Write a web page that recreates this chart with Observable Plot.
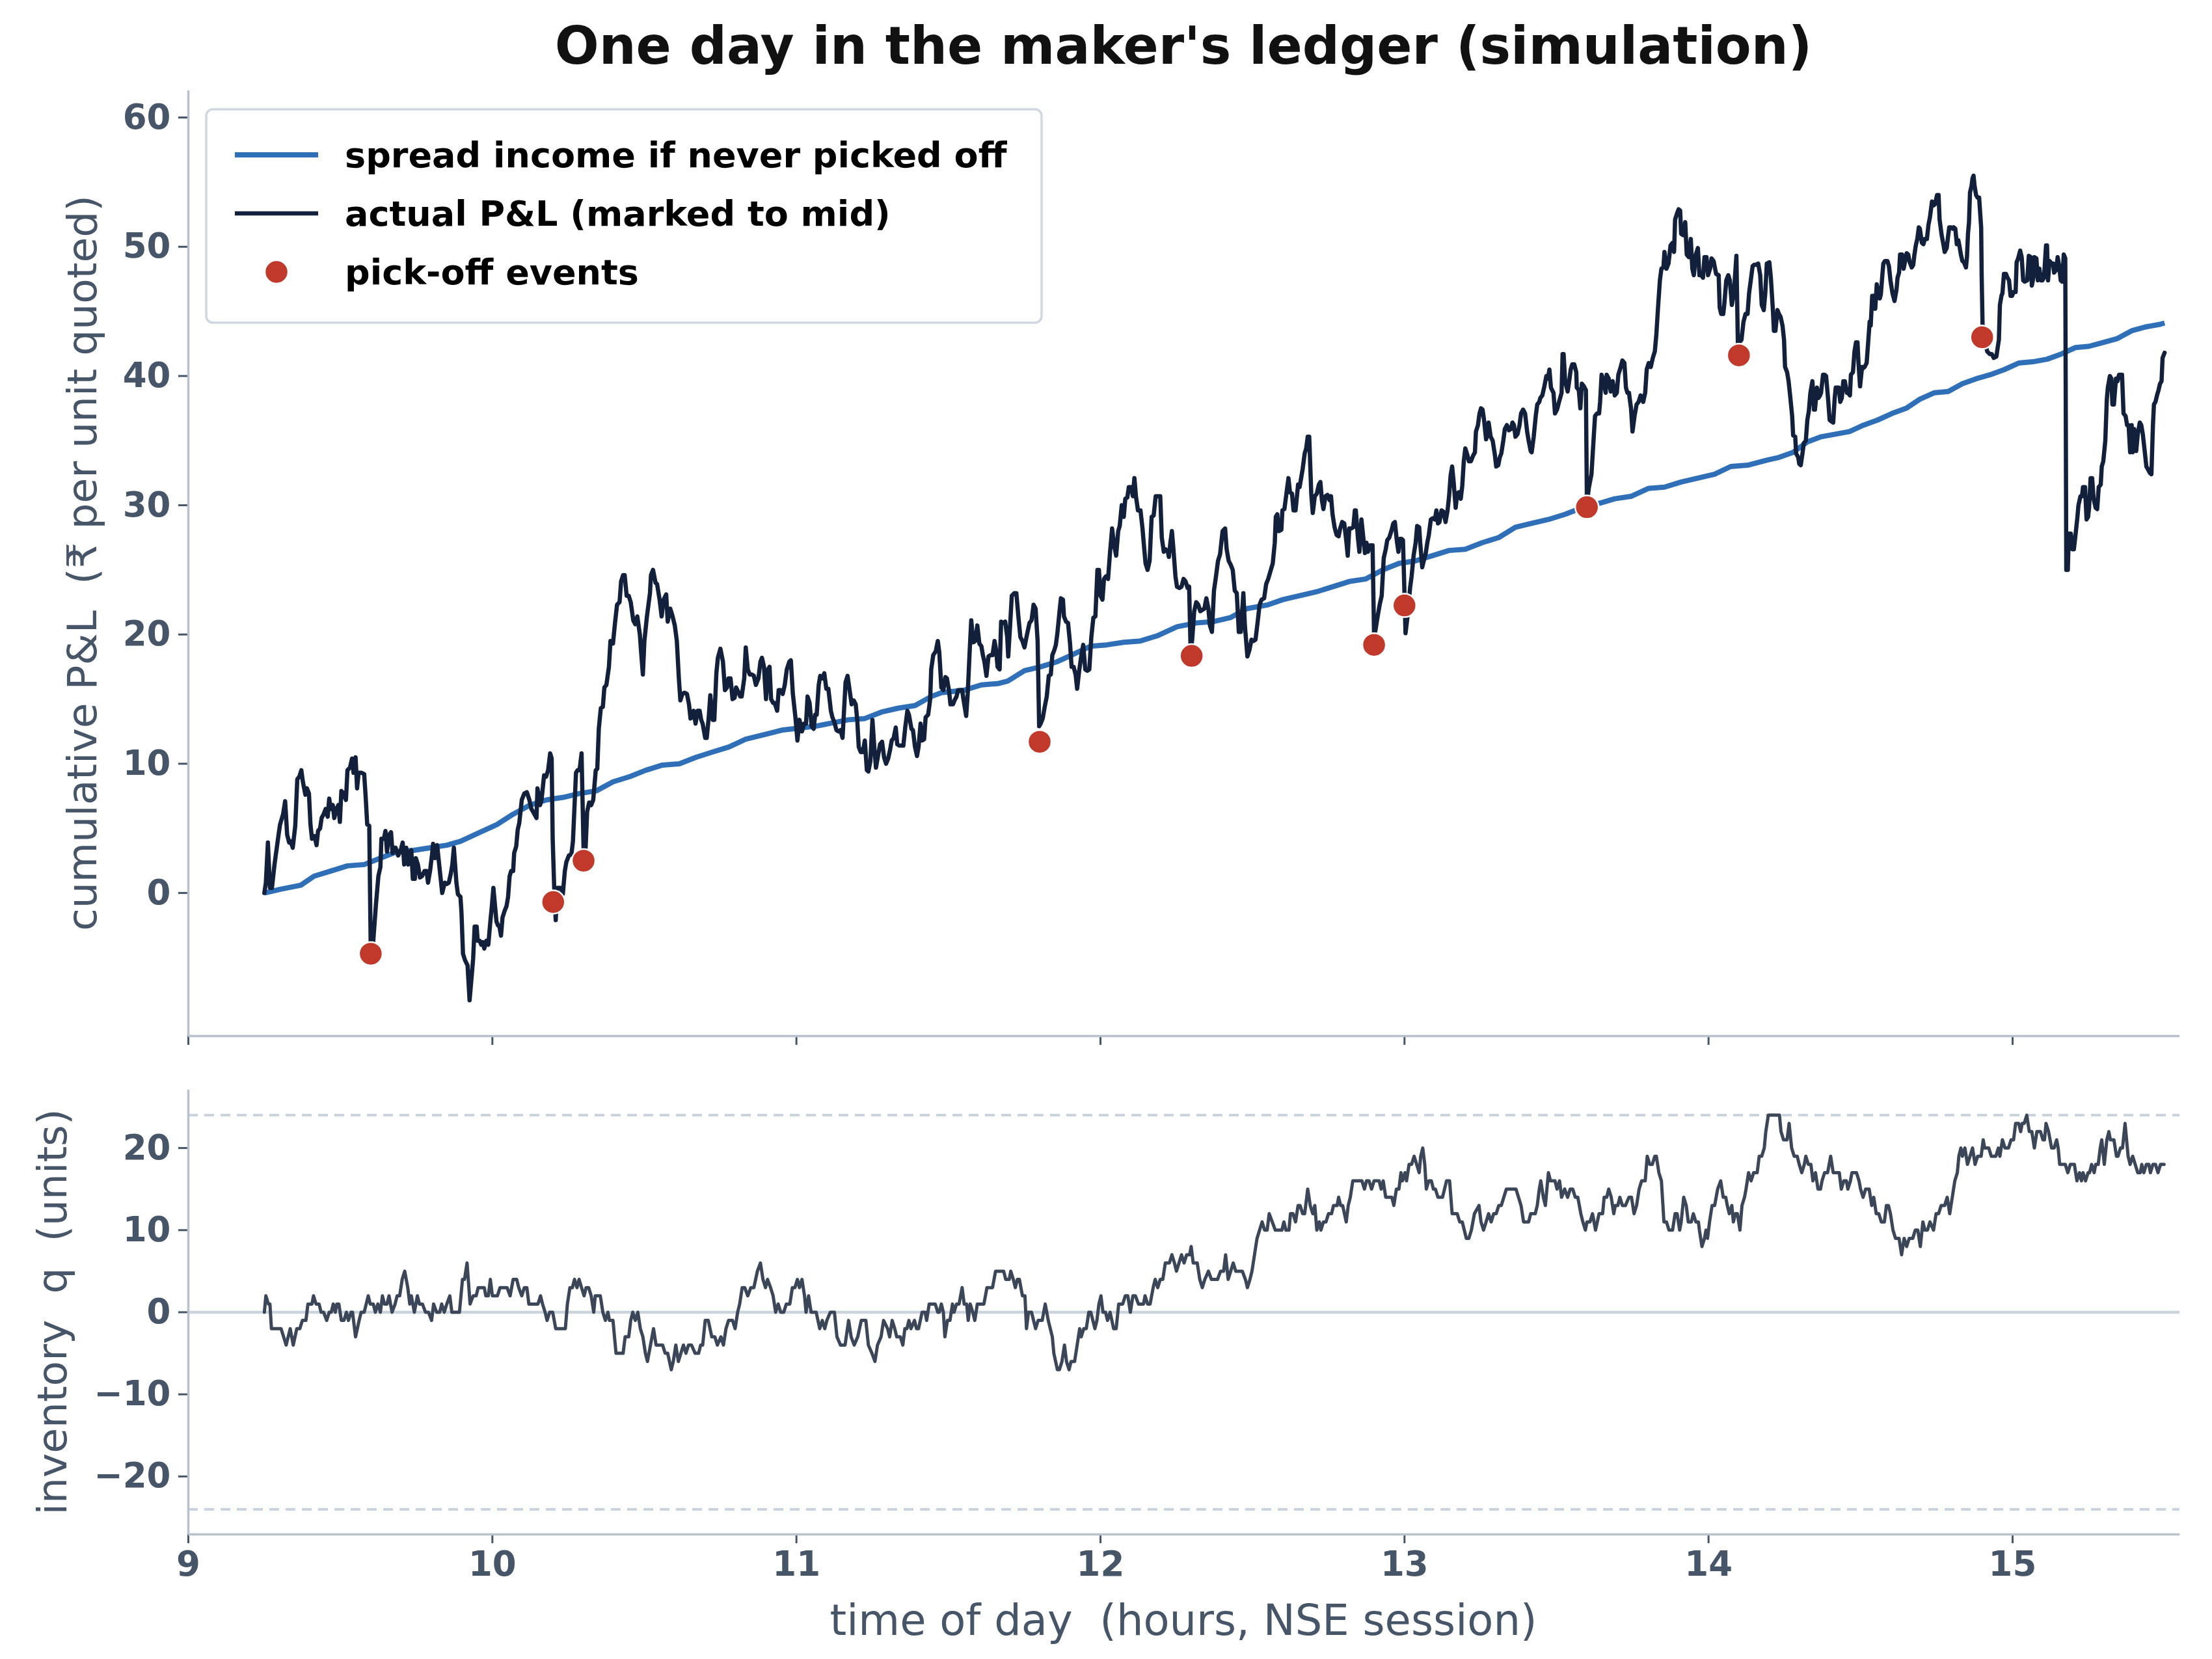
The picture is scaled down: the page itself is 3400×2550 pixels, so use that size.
<!DOCTYPE html>
<html><head><meta charset="utf-8">
<script src="https://cdn.jsdelivr.net/npm/d3@7"></script>
<script src="https://cdn.jsdelivr.net/npm/@observablehq/plot@0.6"></script>
<style>
html,body{margin:0;padding:0;background:#fff;}
#root{position:relative;width:3400px;height:2550px;overflow:hidden;background:#fff;font-family:"DejaVu Sans",sans-serif;}
#toppanel,#botpanel,#overlay{position:absolute;left:0;}
#toppanel{top:120px;} #botpanel{top:1640px;} #overlay{top:0;pointer-events:none;}
</style></head>
<body><div id="root"><div id="toppanel"></div><div id="botpanel"></div><div id="overlay"></div></div>
<script>
// ---- texts ----
const titleText = "One day in the maker's ledger (simulation)";
const legendLabels = ["spread income if never picked off", "actual P&L (marked to mid)", "pick-off events"];
const yLabelTop = "cumulative P&L  (\u20B9 per unit quoted)";
const yLabelBottom = "inventory  q  (units)";
const xLabel = "time of day  (hours, NSE session)";

// ---- ticks ----
const xTicks = [9, 10, 11, 12, 13, 14, 15];
const topYTicks = [0, 10, 20, 30, 40, 50, 60];
const bottomYTicks = [-20, -10, 0, 10, 20];
const inventoryLimit = 24;

// ---- pick-off events (hour of day, cumulative P&L) ----
const pickoffHours = [9.6, 10.2, 10.3, 11.8, 12.3, 12.9, 13.0, 13.6, 14.1, 14.9];
const pickoffValues = [-4.7, -0.7, 2.5, 11.7, 18.35, 19.2, 22.25, 29.85, 41.6, 43.0];

// ---- spread income if never picked off: [minutes after 09:00, value] ----
const spreadPoints = [[15,0],[18.3,0.3],[22.2,0.6],[24.8,1.3],[28.1,1.7],[31.4,2.1],[34.7,2.2],[37.9,2.7],[41.2,3.2],[44.5,3.3],[47.8,3.5],[51,3.7],[53.7,4],[57.6,4.7],[60.9,5.3],[64.1,6.1],[67.4,6.8],[70.7,7.2],[74,7.4],[77.2,7.7],[80.5,7.9],[83.8,8.6],[87.1,9],[90.3,9.5],[93.6,9.9],[96.9,10],[100.2,10.5],[103.4,10.9],[106.7,11.3],[110,11.9],[114.2,12.3],[117.1,12.6],[123.7,12.9],[130.2,13.4],[133.5,13.5],[136.8,14],[140.1,14.3],[143.4,14.5],[146.6,15.2],[148.6,15.5],[153.2,15.7],[156.5,16.1],[159.7,16.2],[161.7,16.4],[165,17.2],[168.2,17.5],[171.5,17.9],[174.8,18.5],[178.1,19.1],[181.3,19.2],[184.6,19.4],[187.9,19.5],[191.2,19.9],[195.1,20.6],[199,20.9],[202.3,21],[205.6,21.3],[208.9,22],[213.1,22.3],[216,22.7],[222.6,23.3],[229.1,24.1],[232.4,24.3],[235.7,25],[238.9,25.5],[242.2,25.7],[245.5,26.1],[248.8,26.5],[252,26.6],[255.3,27.1],[258.6,27.5],[261.9,28.3],[265.1,28.6],[268.4,28.9],[271.7,29.3],[275,29.8],[278.9,30.2],[281.5,30.5],[284.8,30.7],[288.1,31.3],[291.3,31.4],[294.6,31.8],[297.9,32.1],[301.2,32.4],[304.4,33],[307.7,33.1],[311.6,33.5],[313.9,33.7],[316.7,34.1],[319.5,34.9],[322.2,35.3],[325,35.5],[327.8,35.7],[330.6,36.2],[333.4,36.6],[336.2,37.1],[339,37.5],[341.7,38.2],[344.5,38.7],[347.3,38.8],[350.1,39.4],[352.9,39.8],[355.6,40.1],[358.4,40.5],[361.2,41],[364,41.1],[366.8,41.3],[369.6,41.7],[372.4,42.2],[375.1,42.3],[377.9,42.6],[380.7,42.9],[383.5,43.5],[386.3,43.8],[389.1,44],[390,44.1]];

// ---- actual P&L (marked to mid): [minutes after 09:00, value] ----
const pnlPoints = [[15,0],[15.3,0.8],[15.7,3.9],[16.1,0.4],[16.5,0.4],[17,2.2],[17.8,4.5],[18.1,5.3],[18.7,6.1],[19.1,7.1],[19.5,4.5],[19.9,3.9],[20.2,4],[20.6,3.5],[21.1,5.2],[21.5,8.8],[21.9,9],[22.3,9.5],[22.6,8.6],[23.1,7.6],[23.4,8.1],[23.8,7.7],[24.1,5.3],[24.4,4.2],[24.9,4.4],[25.3,3.7],[25.6,4.8],[26,5],[26.3,5.8],[26.7,6.1],[27.1,6.5],[27.5,5.9],[27.8,7.3],[28.1,6.5],[28.5,6.8],[28.8,5.8],[29.2,6.5],[29.6,6.8],[29.9,5.5],[30.2,7.9],[30.6,7.7],[31.1,7.2],[31.4,9.5],[31.9,9.7],[32.3,10.4],[32.6,9.3],[33,10.5],[33.3,8.1],[33.6,9.3],[34.2,9.3],[34.7,9.2],[35,7.4],[35.3,5.3],[35.7,5.2],[36,-4.6],[36.5,-3.7],[37,-1],[37.5,1.3],[37.9,2],[38.1,4.2],[38.6,4.2],[38.9,4.8],[39.2,3.2],[39.6,4.5],[40,4.7],[40.3,3.1],[40.6,3.5],[40.9,3.5],[41.4,2.9],[41.9,3.3],[42.3,3.9],[42.6,2.2],[43,3.5],[43.4,2.2],[43.6,3.1],[44,3.3],[44.3,1.1],[44.7,1.1],[44.9,2.7],[45.3,2.2],[45.7,1.2],[46.1,1.3],[46.6,1.7],[47,1.7],[47.3,0.8],[47.7,1.7],[48.1,3],[48.3,3.8],[48.7,2.7],[49.1,3.7],[49.5,2.2],[49.8,1.1],[50.1,0],[50.6,0.8],[51,0.7],[51.4,0.8],[51.8,1.5],[52.1,2.2],[52.4,3.5],[52.9,0.8],[53.2,-0.1],[53.7,-0.3],[53.9,-1.5],[54.2,-4.7],[54.6,-5.2],[55.1,-5.6],[55.5,-8.3],[55.9,-6.5],[56.2,-5.1],[56.5,-2.6],[56.9,-2.6],[57.1,-3.7],[57.5,-3.7],[57.8,-4],[58.1,-3.8],[58.4,-4.3],[58.8,-3.7],[59.2,-4],[59.6,-2.2],[59.9,-1],[60.2,0.4],[60.5,-0.9],[60.8,-2.2],[61.1,-2.5],[61.4,-2.6],[61.7,-3.3],[62,-1.9],[62.4,-1.4],[62.8,-1],[63.1,-0.3],[63.4,1.3],[63.7,1.7],[64.1,1.7],[64.3,3.1],[64.7,3.6],[65,4.9],[65.3,5.4],[65.8,7.2],[66.3,7.7],[66.8,7.8],[67.3,7.2],[67.7,6.5],[68.3,6.1],[68.7,5.8],[68.9,8.1],[69.4,6.8],[69.7,7.2],[70.2,9.1],[70.6,9],[71,9.5],[71.4,10.8],[71.7,10.4],[71.9,4.2],[72.2,0.4],[72.5,-2.1],[72.8,0.4],[73.2,0.4],[73.5,0.4],[73.9,-0.1],[74.3,1.7],[74.6,2.4],[75.1,2.9],[75.6,3],[75.9,4],[76.5,9.3],[76.8,9.5],[77.2,9.5],[77.6,10.8],[78,3.3],[78.4,3.5],[78.7,6.3],[79.1,7],[79.5,6.8],[79.9,7.2],[80.4,9.5],[80.7,9.6],[81,12.7],[81.4,14.3],[81.8,14.4],[82.1,15.9],[82.5,16.1],[83,17.5],[83.3,19.5],[83.8,19.3],[84.2,20.9],[84.6,22.3],[85.1,22.5],[85.4,24.1],[85.8,24.6],[86.1,24.6],[86.5,23],[86.9,23],[87.3,22.5],[87.8,21.1],[88.2,20.8],[88.6,21.4],[89.1,20],[89.4,18.4],[89.7,16.9],[90,19.5],[90.5,21.4],[91.1,23.2],[91.3,24.6],[91.7,25],[92.2,24],[92.5,23.9],[93,22.7],[93.4,21.4],[93.8,22.7],[94.3,23.1],[94.6,21],[95.1,22],[95.5,21.5],[96,20.7],[96.4,19.5],[96.8,16.6],[97.1,14.9],[97.5,15.4],[97.9,15.5],[98.4,15.4],[98.8,14.6],[99.1,13.5],[99.4,13.6],[99.7,14.1],[100.1,13.1],[100.5,14.1],[100.9,14.1],[101.2,13.4],[101.5,13.1],[102,12],[102.3,12],[102.7,13.6],[103,15.3],[103.5,13.4],[103.8,13.4],[104.2,17],[104.5,18.2],[105,18.9],[105.5,17.9],[105.9,15.7],[106.3,15.9],[106.6,16.6],[107,16.6],[107.4,15],[107.8,15.1],[108.1,15.9],[108.6,15.5],[108.9,15.2],[109.2,15.2],[109.7,16.6],[110,19],[110.4,17.3],[110.8,16.9],[111.2,16.9],[111.6,16.8],[112,16.1],[112.5,16.6],[112.9,17.9],[113.2,18.2],[113.6,17.5],[114,15],[114.4,17.3],[114.7,17.5],[115,15],[115.4,14.7],[115.7,14.7],[116.2,14.1],[116.5,15.7],[116.9,15.7],[117.3,15.4],[117.7,16.1],[118.1,17.3],[118.6,17.9],[118.9,18],[119.3,15.4],[119.8,13.6],[120.2,11.8],[120.6,13.4],[121.1,12.5],[121.5,13.1],[121.9,13.1],[122.2,15.2],[122.6,14.7],[123,12.9],[123.4,12.7],[123.7,13.8],[124,13.8],[124.4,16.1],[124.7,16.8],[125.1,16.6],[125.5,17],[125.9,15.8],[126.3,15.8],[126.8,14.1],[127.1,13.6],[127.5,13.2],[127.9,12.6],[128.3,12.5],[128.7,12.6],[129.1,12],[129.3,13.4],[129.7,16.3],[130.1,16.8],[130.6,15.4],[130.9,14.6],[131.3,14.9],[131.7,14.6],[132,13.4],[132.3,11.3],[132.7,10.9],[133.1,10.9],[133.5,11.8],[133.9,9.5],[134.2,9.4],[134.6,10.2],[135,13.4],[135.4,11.1],[135.7,9.7],[136.1,10.6],[136.5,11.5],[136.9,11.7],[137.3,10.5],[137.7,10],[138.1,10.4],[138.5,11.1],[138.8,11.8],[139.2,12],[139.6,12.8],[139.9,11.5],[140.3,11.4],[140.7,11.4],[141.1,11.4],[141.5,12.9],[141.9,14.1],[142.2,13.8],[142.7,12.7],[143,12.6],[143.4,11.3],[143.8,10.6],[144.1,11.3],[144.5,13.1],[144.8,11.8],[145.2,11.9],[145.5,13.6],[146,13.8],[146.4,15],[146.6,17.3],[147,18.4],[147.5,18.7],[147.9,19.5],[148.2,18.6],[148.6,15.9],[149,15.7],[149.4,16.7],[149.7,16.6],[150.1,15.7],[150.4,14.6],[150.9,14.6],[151.2,14.9],[151.6,15.2],[151.9,15.7],[152.3,15.7],[152.7,15.7],[153,14.9],[153.5,13.7],[153.8,15.4],[154.2,18.8],[154.5,21.1],[154.9,19.4],[155.3,19.5],[155.7,20.7],[156.1,19.3],[156.5,19.1],[156.8,18.4],[157.1,17.9],[157.5,16.8],[157.9,18.3],[158.3,18.4],[158.7,18.4],[159.1,19.5],[159.4,18.8],[159.7,17.5],[160.1,17.3],[160.4,21],[160.8,20.9],[161.2,21],[161.6,19.8],[161.8,18.3],[162.2,20.9],[162.5,23],[163,23.2],[163.4,23.2],[163.8,21.4],[164.2,19.8],[164.6,19.5],[165,19],[165.5,20],[166,20.9],[166.4,21.1],[166.8,22.3],[167.2,22],[167.6,19.5],[167.9,12.9],[168.2,13.1],[168.6,13.5],[169,14.4],[169.4,15.2],[169.8,16.8],[170.2,16.9],[170.5,18.4],[170.9,18.8],[171.2,19.2],[171.5,20.1],[171.9,21.7],[172.2,22.8],[172.6,22.7],[172.8,21.4],[173.2,21],[173.6,20.9],[174,19.3],[174.3,17.5],[174.7,17.5],[175.1,16.9],[175.4,15.8],[175.8,17.2],[176.2,18.3],[176.6,19.2],[177,17.3],[177.4,17.2],[177.8,17.3],[178.2,19.8],[178.6,21.3],[179,21.4],[179.4,25],[179.7,25],[180,23],[180.4,22.7],[180.7,24.3],[181.1,24.5],[181.5,24.3],[181.9,26.4],[182.3,28.2],[182.7,26.9],[183.1,26.1],[183.5,28],[183.8,28.4],[184.2,30],[184.6,29.1],[184.9,30.5],[185.3,30.6],[185.6,31.4],[186.1,31.4],[186.4,30.7],[186.7,32.1],[187,30.7],[187.4,29.6],[187.9,29.6],[188.3,28.2],[188.6,26.8],[188.9,25.5],[189.3,25],[189.7,25.7],[190.1,29.1],[190.5,29.2],[190.9,30.7],[191.3,30.7],[191.8,30.7],[192.1,27.5],[192.5,26.4],[192.8,26.6],[193.3,26.4],[193.5,26],[193.8,27.1],[194.1,28],[194.4,26.6],[194.8,24.5],[195.1,23.7],[195.6,23.6],[196,23.7],[196.4,24.3],[196.8,24.1],[197.2,23.6],[197.5,23.7],[197.8,18.6],[198.1,19.6],[198.5,21.8],[198.9,22.5],[199.3,22.3],[199.7,21.8],[200.1,21.9],[200.5,22],[200.9,22.8],[201.3,22],[201.6,20.7],[202,20.2],[202.4,23.4],[202.8,24.5],[203.2,25.7],[203.6,26.2],[204.1,28],[204.6,28.2],[204.9,26.6],[205.3,25.7],[205.7,25.4],[206.1,25],[206.5,23.4],[206.9,23.2],[207.3,20.2],[207.7,20.2],[208.2,23.2],[208.5,20.7],[209,18.3],[209.4,18.8],[209.8,19.6],[210.2,19.5],[210.6,19.6],[211,20.9],[211.4,22.3],[211.8,22.7],[212.3,22.8],[212.7,23.9],[213.1,24.3],[214,25.5],[214.4,27.1],[214.6,29.1],[214.9,29.3],[215.2,28],[215.7,28.1],[215.9,29.6],[216.3,29.7],[216.7,30.9],[217.1,32.1],[217.4,31],[217.8,30.9],[218.1,29.6],[218.5,29.6],[219,31.6],[219.3,31.4],[219.6,32.1],[219.9,32.8],[220.3,34],[220.6,34.4],[220.9,35.3],[221.2,35.3],[221.6,30.9],[221.9,29.4],[222.3,30.7],[222.7,30.9],[223.1,31.6],[223.4,31.8],[223.7,30.4],[224,29.7],[224.4,30.7],[224.8,30.8],[225.2,30.4],[225.5,30.7],[225.8,29.3],[226.2,28.3],[226.6,27.7],[227,27.6],[227.3,28.2],[227.7,28.7],[228.1,28.6],[228.5,27.3],[228.8,26.1],[229.1,28.2],[229.5,28.2],[229.9,28.3],[230.2,29.6],[230.4,29.6],[230.8,27.5],[231.1,26.4],[231.5,28.9],[231.9,27.4],[232.2,26.3],[232.5,27.1],[232.8,26.4],[233.2,26.9],[233.7,26.9],[234,19.8],[234.3,20.4],[234.7,21.4],[235.1,22.3],[235.5,23],[235.9,25.9],[236.3,26.6],[236.6,27.3],[237,27.5],[237.4,28],[237.8,28.6],[238.1,28.7],[238.5,27.2],[238.8,26.4],[239.1,27.4],[239.4,27.4],[239.7,27.3],[240,23.1],[240.2,20.1],[240.6,21.4],[241.1,23.6],[241.4,24.5],[241.8,26.1],[242.2,27.1],[242.5,28.4],[242.9,28.3],[243.1,27.1],[243.5,25.2],[243.8,25.7],[244.2,26.3],[244.5,27.1],[244.8,27.7],[245.2,28.9],[245.6,29],[246,28.9],[246.3,29.6],[246.6,28.6],[246.9,28.7],[247.3,29.6],[247.7,29.5],[248.1,28.7],[248.5,29.6],[248.8,30.7],[249.1,32.3],[249.4,33],[249.7,31.8],[250.1,29.8],[250.4,30.9],[250.7,31],[251.1,30.5],[251.4,31.5],[251.7,33.4],[252,34.4],[252.4,33.9],[252.7,33.4],[253.1,33.4],[253.5,33.8],[253.9,34.1],[254.1,35.7],[254.5,36.2],[254.8,37.1],[255.1,37.5],[255.4,37.4],[255.7,36.6],[256.1,35.1],[256.4,35.5],[256.6,36.4],[257,35.3],[257.4,35],[257.8,34],[258.1,33],[258.5,33.1],[258.8,33.7],[259.1,34],[259.5,35],[259.8,35.9],[260.2,36.2],[260.6,35.8],[261,35.9],[261.3,36.4],[261.6,36.2],[261.9,35.3],[262.3,35.5],[262.7,36.2],[263,37.1],[263.4,37.4],[263.8,37.1],[264.2,35.7],[264.5,35],[264.9,34.2],[265.1,34.1],[265.5,35.3],[265.9,36.9],[266.2,37.8],[266.6,38],[266.8,38.3],[267.2,38.5],[267.6,39.2],[268,40],[268.3,39.8],[268.6,40.5],[268.9,39.1],[269.4,38.7],[269.7,37.1],[270.1,37.4],[270.5,38],[271,38.7],[271.2,41.7],[271.4,41.7],[271.7,39.6],[272.2,38.8],[272.5,39.6],[272.8,40.5],[273.1,40.9],[273.5,40.9],[273.9,40.3],[274,39.1],[274.4,38.9],[274.7,37.5],[275,39.4],[275.4,39.2],[275.8,38.9],[276,30.2],[276.4,31.4],[276.9,32.4],[277.3,35],[277.6,36.9],[278,37.1],[278.4,37.1],[278.6,38],[278.9,40.1],[279.3,39.6],[279.7,38.7],[279.9,40.1],[280.3,39.8],[280.7,38.8],[281.1,39.6],[281.5,38.5],[281.9,38.7],[282.2,40.1],[282.6,40.6],[283,41.2],[283.4,41],[283.7,39.1],[284,38.7],[284.3,38.7],[284.7,37.5],[285,35.7],[285.4,36.9],[285.8,37.8],[286.2,38],[286.6,38.5],[287.1,38],[287.5,38.7],[287.8,40.5],[288.2,41],[288.6,40.7],[289,41.4],[289.4,41.9],[289.7,43.2],[290,45.1],[290.4,47.4],[290.7,48.3],[291.1,48.4],[291.3,49.6],[291.7,48.3],[292.1,48.7],[292.5,50.1],[292.9,50.3],[293.2,49.6],[293.4,52.1],[293.8,52.6],[294.1,52.9],[294.4,52.8],[294.6,51],[295,50.9],[295.4,51.9],[295.7,49.4],[296.1,49.2],[296.5,50.6],[296.8,48.3],[297.1,47.8],[297.5,49.4],[297.9,49.9],[298.2,47.8],[298.6,47.8],[298.9,47.6],[299.2,49.2],[299.6,49.2],[299.9,47.8],[300.3,48.3],[300.6,49.1],[301,48.9],[301.5,47.9],[302,47.8],[302.2,45.3],[302.5,44.8],[302.9,44.8],[303.1,45.5],[303.5,47.4],[303.9,47.8],[304.2,47.4],[304.6,45.5],[305,46.4],[305.5,49.3],[305.8,42.2],[306.1,42.6],[306.5,42.8],[306.9,44.2],[307.3,44.8],[307.7,44.8],[308,46.4],[308.4,47.6],[308.7,48.5],[309,48.6],[309.4,48.6],[309.8,48.7],[310.2,47.8],[310.5,45.5],[310.9,45.1],[311.2,46.4],[311.5,48.7],[312,48.8],[312.3,47.6],[312.7,45.1],[312.9,43.5],[313.2,43.5],[313.6,45.1],[313.9,44.8],[314.2,44.6],[314.6,43.9],[314.9,42.8],[315.1,40.7],[315.5,40.3],[315.8,39.6],[316.1,38.5],[316.5,36.9],[316.7,35.4],[317.1,35.3],[317.3,34],[317.7,33.7],[317.9,33.2],[318.2,33.1],[318.5,33.9],[318.8,34.8],[319.2,35],[319.5,36.6],[319.8,37.3],[320.1,38.7],[320.5,39.6],[320.8,37.4],[321,37.4],[321.4,39.1],[321.7,38.3],[322,38.5],[322.2,38.7],[322.6,40.1],[322.9,40.1],[323.2,40],[323.6,38.2],[323.9,36.6],[324.2,36.5],[324.6,36.4],[324.9,38.3],[325.1,39.1],[325.4,39.1],[325.7,39.1],[326,38],[326.3,38.3],[326.6,39.6],[326.9,39.6],[327.3,38.7],[327.5,38.7],[327.9,38.5],[328.1,40.1],[328.5,40.3],[328.8,41.9],[329.1,42.6],[329.4,42.6],[329.6,41],[329.9,39.2],[330.3,40.7],[330.5,40.6],[330.8,40.7],[331.2,41],[331.5,42.6],[331.8,44.2],[332,43.9],[332.3,46.2],[332.6,46.2],[332.9,45.2],[333.2,47.1],[333.5,46.4],[333.8,46],[334,46.3],[334.3,47.8],[334.5,48.7],[334.8,48.9],[335.3,48.9],[335.6,48.5],[335.9,47.4],[336.3,46.4],[336.7,45.8],[337.1,46.7],[337.3,47.6],[337.6,48],[337.8,49.4],[338.2,49.4],[338.5,48.3],[338.8,48.9],[339.1,49.5],[339.4,49.4],[339.7,48.8],[340.1,48.4],[340.4,48.6],[340.6,49.3],[340.9,50.1],[341.2,50.6],[341.5,51.5],[341.7,51.4],[342.1,50.3],[342.4,50.2],[342.7,50.6],[343.1,50.6],[343.4,51.7],[343.7,52.3],[344.1,53.5],[344.4,53.2],[344.7,53.3],[345.1,54],[345.4,54],[345.6,52.1],[346,50.9],[346.3,50.3],[346.6,49.6],[347,49.9],[347.3,50.9],[347.5,51.5],[347.9,51.5],[348.2,51.4],[348.4,51.5],[348.7,51.4],[349,50.2],[349.3,50.5],[349.5,50.1],[349.8,49.4],[350.1,48.9],[350.4,48.8],[350.8,48.4],[351,49.2],[351.2,51],[351.4,51.9],[351.6,54.2],[351.9,54.7],[352.1,55.3],[352.3,55.5],[352.5,54.7],[352.8,54],[353.1,53.8],[353.4,53.8],[353.8,51.5],[353.9,47.8],[354.1,43.5],[355,41.9],[355.5,41.7],[355.9,41.7],[356.3,41.4],[356.8,41.5],[357.1,42.3],[357.3,42.8],[357.5,45.5],[357.8,46.2],[358,46.4],[358.3,47.9],[358.7,47.9],[359,47.6],[359.3,47.4],[359.6,46.2],[359.9,46.2],[360.2,46.5],[360.6,46.5],[360.8,48.8],[361.1,49.1],[361.5,49.7],[361.8,49.2],[362.1,47.4],[362.4,47.3],[362.9,47.4],[363.2,49.3],[363.6,49.2],[363.8,47],[364.1,47.6],[364.3,49.2],[364.7,49.1],[365,47.4],[365.3,48.3],[365.6,47.4],[365.9,47.4],[366.2,47.6],[366.6,50.1],[366.8,50.1],[367,47.4],[367.3,48.9],[367.7,48.7],[368,48.7],[368.2,48],[368.6,48.2],[368.9,49.2],[369.2,48.5],[369.5,47.4],[369.8,47.3],[370.1,49.4],[370.4,49.1],[370.6,25],[370.9,25],[371.1,27.8],[371.5,27.8],[371.8,26.6],[372.1,26.6],[372.5,28],[372.8,29.1],[373,30],[373.4,30.7],[373.7,30.7],[373.9,31.4],[374.3,31.4],[374.6,28.9],[374.9,29.1],[375.1,29.8],[375.4,32.1],[375.7,32.1],[376,30.5],[376.4,29.8],[376.7,29.7],[377,31.4],[377.4,31.6],[377.6,33],[377.9,33.4],[378.3,35],[378.6,38.2],[378.8,39.1],[379.2,40],[379.5,39.8],[379.7,37.8],[380,37.8],[380.4,39.8],[380.7,39.6],[381,40.1],[381.4,40.1],[381.6,40.1],[381.9,37.1],[382.3,36.9],[382.6,36.2],[382.9,36.2],[383.2,34.1],[383.5,36.2],[383.7,34.1],[384,35.9],[384.4,34.2],[384.7,35.5],[385.1,36.4],[385.4,36.2],[385.7,35.5],[386.1,34.1],[386.4,33],[386.7,32.8],[387.1,32.5],[387.4,32.4],[387.7,36.2],[387.9,37.8],[388.2,38],[388.5,38.5],[388.8,38.9],[389.1,39.4],[389.4,39.6],[389.6,41.4],[390,41.8]];

// ---- inventory q (units): [minutes after 09:00, units] ----
const inventoryPoints = [[15,0],[15.3,2],[15.8,1],[16.1,1],[16.4,-2],[18.3,-2],[18.8,-3],[19.3,-4],[20.1,-2],[20.7,-4],[21.4,-2],[22,-2],[22.5,-1],[23.2,-1],[23.6,1],[24.4,1],[24.7,2],[25.2,1],[25.8,1],[26.2,0],[26.7,0],[27.3,-1],[27.8,0],[28.2,0],[28.6,1],[29,0],[29.3,1],[29.7,1],[30.2,-1],[30.7,-1],[31.2,0],[31.6,-1],[32.1,0],[32.4,0],[33,-3],[33.7,-1],[34.1,0],[34.7,0],[35.5,2],[35.9,1],[36.5,1],[36.9,0],[37.4,1],[37.9,0],[38.3,2],[38.7,1],[39.2,1],[39.6,2],[40.2,0],[40.8,1],[41.2,2],[41.7,2],[42.2,4],[42.7,5],[43.3,3],[43.7,1],[44,2],[44.6,0],[45.2,2],[45.6,1],[46.2,1],[46.8,0],[47.4,0],[48,-1],[48.4,1],[49,0],[49.6,0],[50,1],[50.5,0],[51,1],[51.6,2],[52,0],[53.5,0],[54.1,4],[54.5,4],[55,6],[55.6,1],[56.2,2],[56.8,2],[57.2,3],[58.4,3],[58.7,2],[59.2,2],[59.6,4],[60,2],[61,2],[61.5,3],[62.9,3],[63.5,2],[64.1,4],[64.8,4],[65.2,3],[65.8,2],[66.3,3],[66.8,3],[67.2,1],[69,1],[69.5,2],[69.9,1],[70.4,0],[70.8,-1],[71.3,0],[71.9,0],[72.5,-2],[74.4,-2],[74.8,1],[75.3,3],[75.8,3],[76.2,4],[76.7,3],[77.1,4],[77.6,3],[78.1,2],[78.5,3],[79,3],[79.5,2],[80,0],[80.3,2],[81.3,2],[81.8,0],[82.3,-1],[82.8,0],[83.1,-1],[83.8,-1],[84.4,-5],[85.8,-5],[86.2,-3],[86.9,-3],[87.3,-1],[87.7,0],[88.2,-1],[88.7,0],[89.2,-2],[89.7,-3],[90.2,-5],[90.6,-6],[91.2,-4],[91.8,-2],[92.3,-4],[93.6,-4],[94.1,-5],[94.6,-5],[95.3,-7],[95.7,-6],[96.2,-4],[96.7,-6],[97.2,-5],[97.7,-4],[98.2,-5],[98.7,-4],[99.3,-4],[100,-5],[100.7,-5],[101.1,-4],[101.5,-4],[102,-1],[102.6,-1],[103.3,-3],[103.9,-3],[104.4,-4],[105.1,-3],[105.6,-4],[106.1,-2],[106.6,-1],[107.4,-1],[107.9,-2],[108.4,0],[108.8,1],[109.3,3],[109.8,3],[110.4,2],[111,3],[111.6,3],[112.3,5],[112.9,6],[113.4,4],[113.9,3],[114.3,4],[114.9,3],[115.4,2],[115.9,0],[116.4,1],[116.9,0],[117.5,0],[118,1],[118.7,1],[119.2,3],[119.7,3],[120.2,4],[120.6,3],[121.1,4],[121.6,2],[121.9,0],[122.4,2],[122.9,0],[123.9,0],[124.6,-2],[125.1,-1],[125.6,-2],[126,-1],[126.7,0],[127.5,0],[128,-3],[128.7,-4],[129.6,-4],[130.3,-1],[130.8,-3],[131.4,-4],[132.1,-3],[132.8,-1],[133.7,-1],[134.2,-4],[134.9,-5],[135.5,-6],[136,-4],[136.7,-3],[137.2,-1],[138,-2],[138.4,-3],[138.9,-1],[139.4,-2],[139.8,-3],[140.5,-3],[141,-4],[141.4,-2],[141.8,-2],[142.2,-1],[142.6,-2],[143.3,-1],[143.7,-2],[144.1,-2],[144.8,0],[145.4,0],[145.7,-1],[146.2,1],[147.4,1],[147.9,0],[148.2,0],[148.6,1],[149,0],[149.3,-3],[149.8,-1],[150.3,-1],[150.8,1],[151.1,0],[151.6,1],[152.1,1],[152.7,3],[153.1,1],[153.6,1],[153.9,-1],[154.3,1],[154.8,0],[155.2,-1],[155.7,1],[157,1],[157.6,3],[158.7,3],[159.3,5],[160.9,5],[161.3,4],[162,4],[162.3,5],[162.8,4],[163.2,3],[163.6,4],[164,4],[164.6,2],[165.1,2],[165.4,-2],[165.8,0],[166.4,0],[166.8,-1],[167.2,-2],[167.7,-1],[168.5,-1],[169.1,1],[169.7,-1],[170.5,-3],[170.8,-5],[171.5,-7],[171.9,-7],[172.4,-6],[172.9,-4],[173.3,-6],[173.8,-7],[174.2,-6],[174.9,-6],[175.4,-4],[175.9,-2],[176.2,-3],[176.7,-2],[177.2,-2],[177.7,0],[178.1,0],[178.5,-1],[178.9,-2],[179.3,-1],[179.7,1],[180.1,2],[180.5,0],[181,0],[181.4,-1],[181.9,0],[182.6,-2],[183.1,-2],[183.6,1],[184.4,1],[184.9,2],[185.4,2],[185.9,0],[186.4,2],[186.9,2],[187.5,1],[188.5,1],[188.8,2],[189.3,1],[189.8,1],[190.4,3],[190.8,4],[191.3,3],[191.8,4],[192.3,4],[192.8,6],[193.6,6],[194.1,7],[194.6,6],[195,5],[195.5,6],[196,7],[196.5,6],[197,7],[197.6,7],[197.9,8],[198.3,6],[199.1,6],[199.6,4],[200.1,3],[200.6,4],[201.3,5],[201.9,4],[203.1,4],[203.7,5],[204.3,5],[204.7,7],[205.2,4],[205.7,5],[206.2,6],[206.7,5],[208,5],[208.6,4],[209,3],[209.5,4],[209.9,5],[210.4,7],[210.9,9],[211.4,10],[211.9,11],[212.4,10],[212.9,10],[213.3,12],[213.9,11],[214.5,10],[215.8,10],[216.2,11],[216.6,10],[217.2,10],[217.5,12],[218,12],[218.5,11],[219,13],[219.4,13],[219.9,12],[220.3,12],[220.9,15],[221.4,13],[221.9,12],[222.3,13],[222.7,10],[223.2,11],[223.5,10],[224,11],[224.5,11],[225,12],[225.6,12],[226,13],[226.7,13],[227,14],[227.4,13],[227.8,13],[228.5,11],[228.9,13],[229.3,14],[229.8,16],[231.6,16],[232.1,15],[232.5,16],[233,16],[233.5,15],[234,16],[235,16],[235.4,15],[235.8,16],[236.3,14],[237.5,14],[237.9,13],[238.4,15],[238.9,15],[239.3,17],[239.6,16],[240.1,17],[240.4,16],[240.9,18],[241.4,18],[241.9,19],[242.4,18],[242.9,17],[243.2,19],[243.6,20],[244,18],[244.3,15],[244.8,16],[245.3,16],[245.7,15],[246.1,15],[246.6,14],[247.5,14],[247.9,15],[248.3,16],[248.9,16],[249.4,12],[250.4,12],[250.9,11],[251.4,11],[251.8,10],[252.2,9],[252.7,9],[253.2,10],[253.8,12],[254.7,13],[255.1,11],[255.6,10],[256.1,11],[256.6,12],[257.1,11],[257.6,12],[258.1,12],[258.6,13],[259.1,13],[259.6,14],[260.1,15],[262,15],[262.5,14],[263,13],[263.5,11],[264.5,11],[264.9,12],[265.8,12],[266.2,13],[266.6,15],[266.9,16],[267.4,14],[267.8,13],[268.1,15],[268.4,17],[268.8,16],[269.7,16],[270.1,15],[270.6,16],[271,14],[271.6,15],[272.2,14],[272.7,15],[273.2,15],[273.7,14],[274.2,14],[274.8,12],[275.2,11],[275.7,10],[276,11],[276.6,11],[277.1,12],[277.7,10],[278.4,12],[279.1,12],[279.4,14],[279.9,14],[280.3,15],[280.8,14],[281.3,12],[281.6,13],[282.1,13],[282.5,14],[283,13],[283.6,13],[284.3,14],[284.8,14],[285.3,12],[285.8,13],[286.3,15],[286.8,16],[287.5,16],[287.9,19],[288.4,18],[288.9,18],[289.4,19],[289.7,19],[290.2,17],[290.7,16],[291.2,11],[291.7,11],[292.2,10],[292.9,10],[293.4,12],[293.8,12],[294.3,10],[294.6,11],[295.1,14],[295.6,13],[296,11],[296.6,11],[297,12],[297.5,11],[298,11],[298.2,10],[298.7,8],[299.2,9],[299.5,10],[299.8,9],[300.2,11],[300.7,13],[301.2,13],[301.8,15],[302.4,16],[302.9,14],[303.4,14],[303.7,13],[304.1,12],[304.6,13],[304.9,11],[305.3,12],[305.7,12],[306.2,10],[306.6,13],[307.1,14],[307.4,15],[307.9,17],[308.4,16],[308.9,17],[309.6,17],[310,19],[310.5,19],[311,20],[311.3,22],[311.8,24],[314,24],[314.3,22],[314.8,21],[315.5,21],[315.9,23],[316.4,20],[316.9,19],[317.5,19],[317.9,18],[318.4,17],[318.9,18],[319.2,19],[319.7,18],[320.2,18],[320.6,16],[321.1,17],[321.6,15],[322.1,15],[322.4,16],[322.9,17],[323.5,17],[323.8,18],[324.1,19],[324.6,17],[325.8,17],[326.2,15],[326.7,16],[327.2,16],[327.5,15],[328,16],[328.3,17],[329.2,17],[329.7,16],[330,15],[330.5,14],[331,15],[331.7,15],[332.2,13],[332.6,14],[333.1,12],[333.6,12],[334.1,11],[334.7,11],[335.1,13],[335.5,13],[335.9,12],[336.4,10],[336.9,9],[337.6,9],[338.1,7],[338.6,9],[339.1,8],[339.6,9],[340.3,9],[340.8,10],[341.3,10],[341.8,8],[342.3,11],[342.7,10],[343.2,10],[343.7,11],[344.4,10],[344.9,12],[345.4,12],[345.9,13],[346.6,13],[347.1,14],[347.6,12],[348.1,14],[348.6,16],[349.1,17],[349.4,19],[349.8,20],[350.1,19],[350.6,20],[351.1,18],[351.6,19],[352.1,20],[352.6,18],[353.1,19],[353.8,19],[354.2,21],[354.5,20],[355.3,20],[355.8,19],[356.7,19],[357.2,20],[357.5,19],[358,21],[358.5,20],[359.2,20],[359.7,21],[360.2,21],[360.6,23],[361.2,23],[361.6,22],[361.9,23],[362.3,23],[362.8,24],[363.3,22],[363.8,22],[364.3,20],[364.8,22],[365.5,22],[366,21],[366.3,21],[366.6,23],[367.1,22],[367.7,20],[368.2,20],[368.7,21],[369,20],[369.3,18],[369.8,18],[370.4,18],[370.9,17],[371.4,18],[372.2,18],[372.7,16],[373.2,17],[373.6,16],[373.9,17],[374.4,16],[374.9,17],[375.2,17],[375.6,18],[376.1,17],[376.4,18],[376.9,18],[377.3,20],[377.6,21],[378.1,18],[378.6,21],[379,22],[379.3,21],[380,21],[380.5,19],[380.8,19],[381.3,20],[381.7,20],[382.2,23],[382.5,21],[382.8,19],[383.2,18],[383.7,19],[384.2,18],[384.7,17],[385.2,17],[385.5,18],[385.9,17],[386.4,18],[386.9,18],[387.2,17],[387.7,18],[388.2,18],[388.7,17],[389.2,18],[389.9,18]];

// ---- styling ----
const C = {blue: "#2f6fb8", navy: "#13203b", red: "#c0392b", inv: "#3b4759", spine: "#b9c1cc",
  tick: "#475569", guide: "#cbd3dd", text: "#475569"};
const xDomain = [9, 15.55];
const topDomain = [-11.07, 62.07];
const botDomain = [-27.06, 27.06];

const toHour = m => 9 + m / 60;
const pnl = pnlPoints.map(([m, v]) => ({t: toHour(m), v}));
const spread = spreadPoints.map(([m, v]) => ({t: toHour(m), v}));
const inventory = inventoryPoints.map(([m, q]) => ({t: toHour(m), q}));
const picks = pickoffHours.map((t, i) => ({t, v: pickoffValues[i]}));
const fmt = d => d < 0 ? "\u2212" + Math.abs(d) : String(d);

const baseStyle = {fontFamily: "DejaVu Sans", fontSize: "53px", fontWeight: "bold", color: C.text, background: "transparent", overflow: "visible"};

const topChart = Plot.plot({
  width: 3400, height: 1492, marginLeft: 289, marginRight: 50, marginTop: 19, marginBottom: 20,
  style: baseStyle,
  x: {domain: xDomain}, y: {domain: topDomain},
  marks: [
    Plot.axisY({ticks: topYTicks, tickSize: 15, tickPadding: 12, tickFormat: fmt, stroke: C.tick, strokeWidth: 3, label: null}),
    Plot.axisX({ticks: xTicks, tickSize: 14, tickFormat: () => "", stroke: C.tick, strokeWidth: 3, label: null}),
    Plot.line(spread, {x: "t", y: "v", stroke: C.blue, strokeWidth: 8, strokeLinejoin: "round", strokeLinecap: "butt"}),
    Plot.line(pnl, {x: "t", y: "v", stroke: C.navy, strokeWidth: 6.5, strokeLinejoin: "round"}),
    Plot.dot(picks, {x: "t", y: "v", r: 18, fill: C.red, stroke: "white", strokeWidth: 2.5}),
    Plot.ruleX([xDomain[0]], {stroke: C.spine, strokeWidth: 3.5}),
    Plot.ruleY([topDomain[0]], {stroke: C.spine, strokeWidth: 3.5})
  ]
});
document.getElementById("toppanel").appendChild(topChart);

const botChart = Plot.plot({
  width: 3400, height: 910, marginLeft: 289, marginRight: 50, marginTop: 35, marginBottom: 192,
  style: baseStyle,
  x: {domain: xDomain}, y: {domain: botDomain},
  marks: [
    Plot.ruleY([0], {stroke: C.guide, strokeWidth: 4.5}),
    Plot.ruleY([-inventoryLimit, inventoryLimit], {stroke: C.guide, strokeWidth: 4, strokeDasharray: "15,10"}),
    Plot.axisY({ticks: bottomYTicks, tickSize: 15, tickPadding: 12, tickFormat: fmt, stroke: C.tick, strokeWidth: 3, label: null}),
    Plot.axisX({ticks: xTicks, tickSize: 14, tickPadding: 12, tickFormat: fmt, stroke: C.tick, strokeWidth: 3, label: null}),
    Plot.line(inventory, {x: "t", y: "q", stroke: C.inv, strokeWidth: 5, strokeLinejoin: "round"}),
    Plot.ruleX([xDomain[0]], {stroke: C.spine, strokeWidth: 3.5}),
    Plot.ruleY([botDomain[0]], {stroke: C.spine, strokeWidth: 3.5})
  ]
});
document.getElementById("botpanel").appendChild(botChart);

// ---- overlay: title, legend, axis labels ----
const svg = d3.select("#overlay").append("svg").attr("width", 3400).attr("height", 2550)
  .style("font-family", "'DejaVu Sans', sans-serif");
svg.append("text").attr("x", 1819).attr("y", 98).attr("text-anchor", "middle")
  .attr("font-size", 80).attr("font-weight", "bold").attr("fill", "#111").text(titleText);

const lg = svg.append("g");
lg.append("rect").attr("x", 317).attr("y", 168).attr("width", 1284).attr("height", 328).attr("rx", 10)
  .attr("fill", "white").attr("fill-opacity", 0.9).attr("stroke", "#d0d7e0").attr("stroke-width", 3.5);
const rowY = [238, 328, 418];
lg.append("line").attr("x1", 361).attr("x2", 489).attr("y1", rowY[0]).attr("y2", rowY[0]).attr("stroke", C.blue).attr("stroke-width", 8);
lg.append("line").attr("x1", 361).attr("x2", 489).attr("y1", rowY[1]).attr("y2", rowY[1]).attr("stroke", C.navy).attr("stroke-width", 6.5);
lg.append("circle").attr("cx", 425).attr("cy", rowY[2]).attr("r", 18).attr("fill", C.red).attr("stroke", "white").attr("stroke-width", 2.5);
legendLabels.forEach((s, i) => {
  lg.append("text").attr("x", 530).attr("y", rowY[i] + 18.7).attr("font-size", 54).attr("font-weight", "bold")
    .attr("fill", "#000").text(s);
});

svg.append("text").attr("transform", "translate(148,865.5) rotate(-90)").attr("text-anchor", "middle")
  .attr("font-size", 63).attr("fill", C.text).style("white-space", "pre").text(yLabelTop);
svg.append("text").attr("transform", "translate(102,2016.5) rotate(-90)").attr("text-anchor", "middle")
  .attr("font-size", 63).attr("fill", C.text).style("white-space", "pre").text(yLabelBottom);
svg.append("text").attr("x", 1819).attr("y", 2513).attr("text-anchor", "middle")
  .attr("font-size", 65.5).attr("fill", C.text).style("white-space", "pre").text(xLabel);
</script>
</body></html>
